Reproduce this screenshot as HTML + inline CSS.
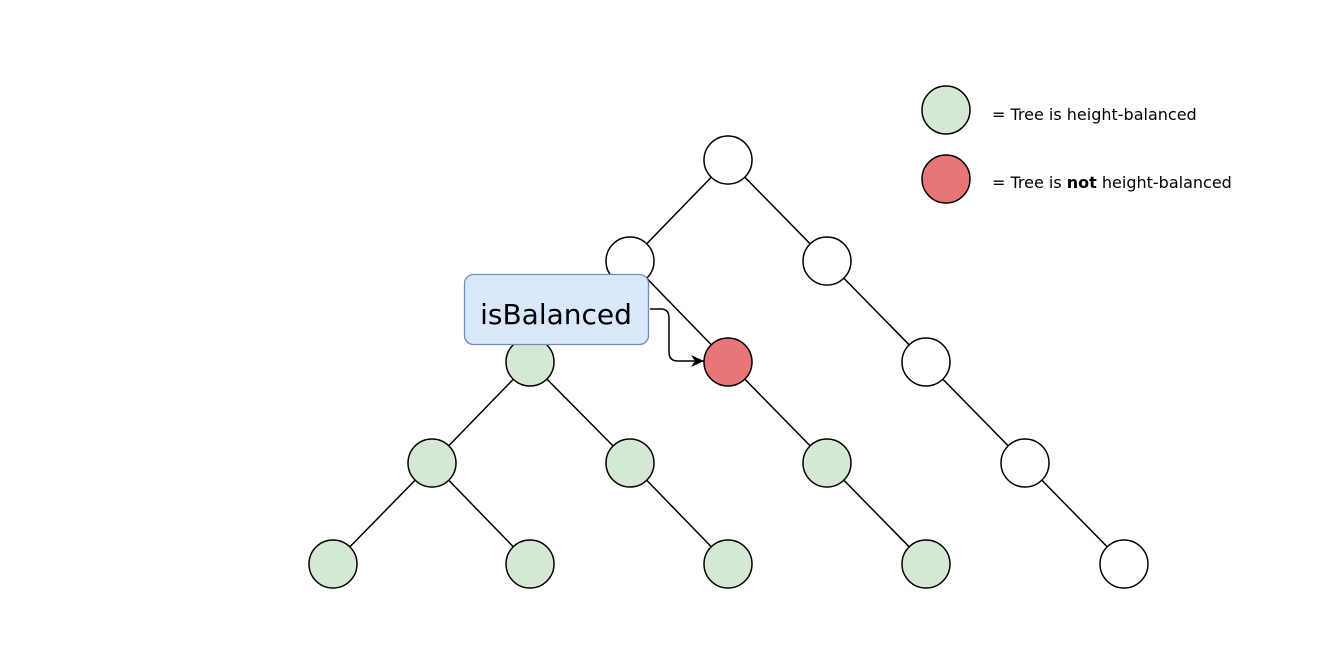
<!DOCTYPE html>
<html><head><style>body{margin:0;background:#fff}</style></head><body>
<svg width="1333" height="659" xmlns="http://www.w3.org/2000/svg" style="display:block">
<defs><marker id="a" markerWidth="14" markerHeight="14" refX="13" refY="7" orient="auto" markerUnits="userSpaceOnUse"><path d="M0,1 L13,7 L0,13 L4,7 z" fill="#000"/></marker></defs>
<g stroke="#000" stroke-width="1.5">
<line x1="728" y1="160" x2="630" y2="261"/><line x1="728" y1="160" x2="827" y2="261"/>
<line x1="630" y1="261" x2="530" y2="362"/><line x1="630" y1="261" x2="728" y2="362"/>
<line x1="827" y1="261" x2="926" y2="362"/><line x1="926" y1="362" x2="1025" y2="463"/>
<line x1="1025" y1="463" x2="1124" y2="564"/>
<line x1="530" y1="362" x2="432" y2="463"/><line x1="530" y1="362" x2="630" y2="463"/>
<line x1="432" y1="463" x2="333" y2="564"/><line x1="432" y1="463" x2="530" y2="564"/>
<line x1="728" y1="362" x2="827" y2="463"/><line x1="630" y1="463" x2="728" y2="564"/>
<line x1="827" y1="463" x2="926" y2="564"/>
</g>
<g stroke="#000" stroke-width="1.5">
<circle cx="728" cy="160" r="24" fill="#fff"/>
<circle cx="630" cy="261" r="24" fill="#fff"/><circle cx="827" cy="261" r="24" fill="#fff"/>
<circle cx="530" cy="362" r="24" fill="#d5e8d4"/><circle cx="728" cy="362" r="24" fill="#e87676"/><circle cx="926" cy="362" r="24" fill="#fff"/>
<circle cx="432" cy="463" r="24" fill="#d5e8d4"/><circle cx="630" cy="463" r="24" fill="#d5e8d4"/><circle cx="827" cy="463" r="24" fill="#d5e8d4"/><circle cx="1025" cy="463" r="24" fill="#fff"/>
<circle cx="333" cy="564" r="24" fill="#d5e8d4"/><circle cx="530" cy="564" r="24" fill="#d5e8d4"/><circle cx="728" cy="564" r="24" fill="#d5e8d4"/><circle cx="926" cy="564" r="24" fill="#d5e8d4"/><circle cx="1124" cy="564" r="24" fill="#fff"/>
<circle cx="946" cy="110" r="24" fill="#d5e8d4"/><circle cx="946" cy="179" r="24" fill="#e87676"/>
</g>
<rect x="464.5" y="274.5" width="184" height="70" rx="9" fill="#dae8fc" stroke="#6c8ebf" stroke-width="1.3"/>
<text x="556" y="324" text-anchor="middle" font-family="'DejaVu Sans',sans-serif" font-size="28" fill="#000">isBalanced</text>
<path d="M650 309 H661 Q669 309 669 318 V352 Q669 361 678 361 H704" fill="none" stroke="#000" stroke-width="1.5" marker-end="url(#a)"/>
<text x="992" y="120" font-family="'DejaVu Sans',sans-serif" font-size="16" fill="#000">= Tree is height-balanced</text>
<text x="992" y="188" font-family="'DejaVu Sans',sans-serif" font-size="16" fill="#000">= Tree is <tspan font-weight="bold">not</tspan> height-balanced</text>
</svg>
</body></html>
